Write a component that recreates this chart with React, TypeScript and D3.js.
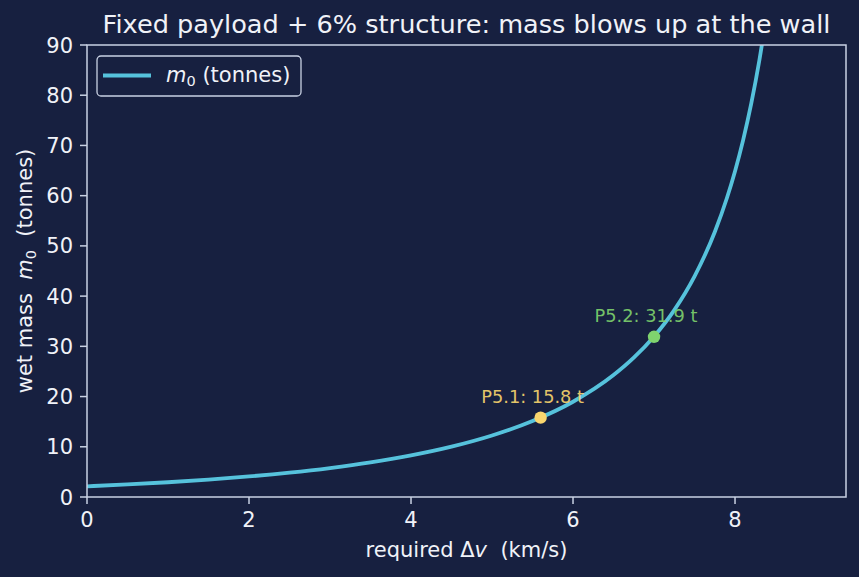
import React from 'react';
import * as d3 from 'd3';

// required delta-v (km/s) and wet mass (t)
const deltaV = [0, 0.5, 1, 1.5, 2, 2.5, 3, 3.5, 4, 4.5, 5, 5.5, 6, 6.5, 6.75, 7, 7.25, 7.5, 7.75, 7.9, 8, 8.1, 8.2, 8.3, 8.4];
const wetMass = [2.13, 2.5, 2.94, 3.46, 4.09, 4.85, 5.77, 6.89, 8.29, 10.03, 12.25, 15.13, 18.97, 24.27, 27.73, 31.96, 37.22, 43.94, 52.77, 59.54, 64.88, 71.07, 78.31, 86.91, 97.27];

const markLabels = ['P5.1: 15.8 t', 'P5.2: 31.9 t'];
const markDv = [5.6, 7.0];
const markMass = [15.8, 31.9];
const markColors = ['#fad66e', '#7fd36e'];

const xTicks = [0, 2, 4, 6, 8];
const yTicks = [0, 10, 20, 30, 40, 50, 60, 70, 80, 90];

const W = 859;
const H = 577;
const m = { top: 45, right: 13, bottom: 80, left: 87 };

const BG = '#172040';
const FG = '#f0f2f8';
const SPINE = '#c9d1e3';
const LINE = '#56c2dc';
const FONT = 'DejaVu Sans';

export default function App() {
  const x = d3.scaleLinear().domain([0, 9.37]).range([m.left, W - m.right]);
  const y = d3.scaleLinear().domain([0, 90]).range([H - m.bottom, m.top]);

  const pts = deltaV.map((d, i) => [d, wetMass[i]] as [number, number]);
  const line = d3.line<[number, number]>()
    .x(d => x(d[0]))
    .y(d => y(d[1]))
    .curve(d3.curveMonotoneX);

  const [x0, x1] = x.range();
  const [y0, y1] = y.range();

  return (
    <svg width={W} height={H} style={{ display: 'block', position: 'absolute', left: 0, top: 0 }} fontFamily={FONT}>
      <rect width={W} height={H} fill={BG} />
      <defs>
        <clipPath id="plot">
          <rect x={x0} y={y1} width={x1 - x0} height={y0 - y1} />
        </clipPath>
      </defs>

      <text x={(x0 + x1) / 2} y={33} textAnchor="middle" fill={FG} fontSize={25.6}>
        Fixed payload + 6% structure: mass blows up at the wall
      </text>

      <path d={line(pts) ?? ''} fill="none" stroke={LINE} strokeWidth={3.8} clipPath="url(#plot)" />

      {markDv.map((d, i) => (
        <g key={i}>
          <circle cx={x(d)} cy={y(markMass[i])} r={6.2} fill={markColors[i]} />
          <text x={x(d) - 8} y={y(markMass[i]) - 15} textAnchor="middle" fill={markColors[i]} fontSize={17.8} opacity={0.9}>
            {markLabels[i]}
          </text>
        </g>
      ))}

      <rect x={x0} y={y1} width={x1 - x0} height={y0 - y1} fill="none" stroke={SPINE} strokeWidth={1.5} />

      {xTicks.map(t => (
        <g key={t} transform={`translate(${x(t)},${y0})`}>
          <line y2={7} stroke={SPINE} strokeWidth={1.5} />
          <text y={30} textAnchor="middle" fill={FG} fontSize={21}>{t}</text>
        </g>
      ))}
      {yTicks.map(t => (
        <g key={t} transform={`translate(${x0},${y(t)})`}>
          <line x2={-7} stroke={SPINE} strokeWidth={1.5} />
          <text x={-14} dy="0.36em" textAnchor="end" fill={FG} fontSize={21}>{t}</text>
        </g>
      ))}

      <text x={(x0 + x1) / 2} y={557} textAnchor="middle" fill={FG} fontSize={21}>
        required Δ<tspan fontStyle="italic">v</tspan>{'\u00a0\u00a0'}(km/s)
      </text>

      <text transform={`translate(32,${(y0 + y1) / 2}) rotate(-90)`} textAnchor="middle" fill={FG} fontSize={21}>
        wet mass{'\u00a0\u00a0'}<tspan fontStyle="italic">m</tspan><tspan fontSize={14.5} dy={4}>0</tspan><tspan dy={-4}>{'\u00a0\u00a0'}(tonnes)</tspan>
      </text>

      <g>
        <rect x={97} y={56} width={204} height={40} rx={4} fill={BG} stroke={SPINE} strokeWidth={1.3} />
        <line x1={103} x2={151} y1={75.5} y2={75.5} stroke={LINE} strokeWidth={3.8} />
        <text x={166} y={82} fill={FG} fontSize={21}>
          <tspan fontStyle="italic">m</tspan><tspan fontSize={14.5} dy={4}>0</tspan><tspan dy={-4}>{'\u00a0'}(tonnes)</tspan>
        </text>
      </g>
    </svg>
  );
}
